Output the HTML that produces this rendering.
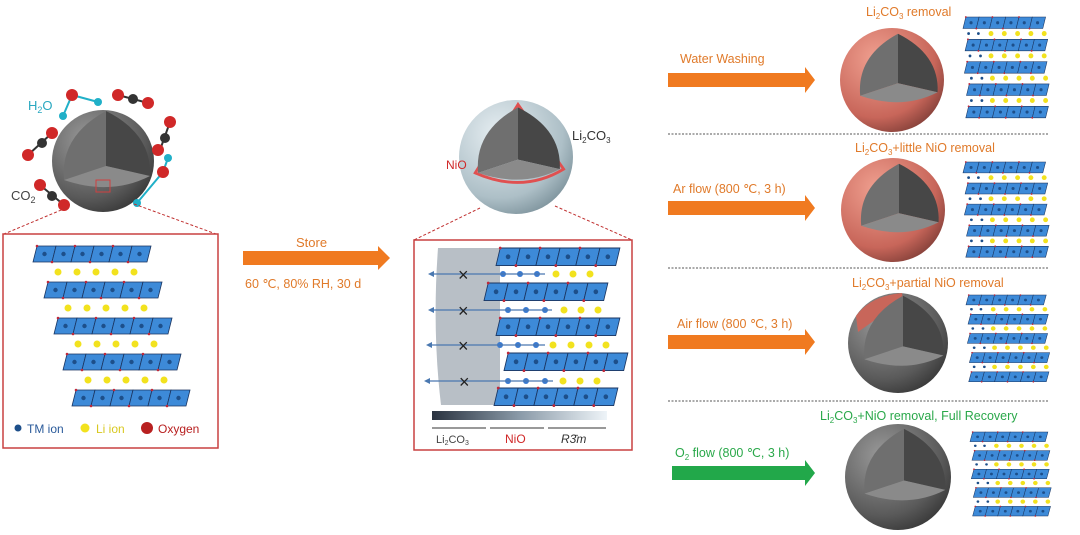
<!DOCTYPE html>
<html><head><meta charset="utf-8"><style>
html,body{margin:0;padding:0;background:#fff;}
svg{display:block;font-family:"Liberation Sans",sans-serif;}
</style></head><body>
<svg width="1080" height="535" viewBox="0 0 1080 535" xmlns="http://www.w3.org/2000/svg">
<defs>
<radialGradient id="gs" cx="0.35" cy="0.3" r="0.8"><stop offset="0" stop-color="#9a9a9a"/><stop offset="0.7" stop-color="#5a5a5a"/><stop offset="1" stop-color="#333"/></radialGradient>
<radialGradient id="rs" cx="0.35" cy="0.3" r="0.8"><stop offset="0" stop-color="#f0a090"/><stop offset="0.7" stop-color="#c8665a"/><stop offset="1" stop-color="#7a3a34"/></radialGradient>
<radialGradient id="bs" cx="0.35" cy="0.3" r="0.8"><stop offset="0" stop-color="#e6eef2"/><stop offset="0.7" stop-color="#a9bcc4"/><stop offset="1" stop-color="#6f8690"/></radialGradient>
<linearGradient id="bar" x1="0" x2="1"><stop offset="0" stop-color="#2a3340"/><stop offset="0.5" stop-color="#8a9aa8"/><stop offset="1" stop-color="#eef4f8"/></linearGradient>
<g id="core">
<path d="M0,-47 L0,8 L-42,22 Q-46,-22 0,-47 Z" fill="#6f6f6f"/>
<path d="M0,-47 L0,8 L44,18 Q46,-24 0,-47 Z" fill="#474747"/>
<path d="M-42,22 L0,8 L44,18 Q5,38 -42,22 Z" fill="#8a8a8a"/>
</g>
<g id="row">
<g fill="#3d8ad8" stroke="#1b3560" stroke-width="0.8">
<polygon points="4,0 23,0 19,16 0,16"/><polygon points="23,0 42,0 38,16 19,16"/><polygon points="42,0 61,0 57,16 38,16"/><polygon points="61,0 80,0 76,16 57,16"/><polygon points="80,0 99,0 95,16 76,16"/><polygon points="99,0 118,0 114,16 95,16"/>
</g>
<g fill="#1d4f8a"><circle cx="11.5" cy="8" r="2.2"/><circle cx="30.5" cy="8" r="2.2"/><circle cx="49.5" cy="8" r="2.2"/><circle cx="68.5" cy="8" r="2.2"/><circle cx="87.5" cy="8" r="2.2"/><circle cx="106.5" cy="8" r="2.2"/></g>
<g fill="#c0283a"><circle cx="4" cy="0" r="1.3"/><circle cx="42" cy="0" r="1.3"/><circle cx="80" cy="0" r="1.3"/><circle cx="19" cy="16" r="1.3"/><circle cx="57" cy="16" r="1.3"/><circle cx="95" cy="16" r="1.3"/></g>
</g>
<g id="li" fill="#f2e21e"><circle cx="0" cy="0" r="3.5"/><circle cx="19" cy="0" r="3.5"/><circle cx="38" cy="0" r="3.5"/><circle cx="57" cy="0" r="3.5"/><circle cx="76" cy="0" r="3.5"/></g>
<g id="mini">
<use href="#row" x="0" y="0"/><use href="#li" x="40" y="23"/>
<g fill="#1d4f8a"><circle cx="8" cy="23" r="2"/><circle cx="22" cy="23" r="2"/></g>
<use href="#row" x="3" y="31"/><use href="#li" x="40" y="54"/>
<g fill="#1d4f8a"><circle cx="10" cy="54" r="2"/><circle cx="25" cy="54" r="2"/></g>
<use href="#row" x="2" y="62"/><use href="#li" x="42" y="85"/>
<g fill="#1d4f8a"><circle cx="12" cy="85" r="2"/><circle cx="27" cy="85" r="2"/></g>
<use href="#row" x="5" y="93"/><use href="#li" x="42" y="116"/>
<g fill="#1d4f8a"><circle cx="12" cy="116" r="2"/><circle cx="27" cy="116" r="2"/></g>
<use href="#row" x="4" y="124"/>
</g>
</defs>

<!-- left sphere -->
<circle cx="103" cy="161" r="51" fill="url(#gs)"/>
<g transform="translate(106,158)"><use href="#core"/></g>
<g stroke="#333" stroke-width="2">
<line x1="72" y1="95" x2="98" y2="102" stroke="#20b0c8"/><line x1="72" y1="95" x2="63" y2="116" stroke="#20b0c8"/>
<line x1="118" y1="95" x2="148" y2="103"/><line x1="170" y1="122" x2="160" y2="150"/>
<line x1="52" y1="133" x2="28" y2="155"/><line x1="40" y1="185" x2="64" y2="205"/>
<line x1="163" y1="172" x2="137" y2="203" stroke="#20b0c8"/><line x1="163" y1="172" x2="168" y2="158" stroke="#20b0c8"/>
</g>
<g fill="#d02828"><circle cx="72" cy="95" r="6"/><circle cx="118" cy="95" r="6"/><circle cx="148" cy="103" r="6"/><circle cx="170" cy="122" r="6"/><circle cx="158" cy="150" r="6"/><circle cx="52" cy="133" r="6"/><circle cx="28" cy="155" r="6"/><circle cx="40" cy="185" r="6"/><circle cx="64" cy="205" r="6"/><circle cx="163" cy="172" r="6"/></g>
<g fill="#333"><circle cx="133" cy="99" r="5"/><circle cx="165" cy="138" r="5"/><circle cx="42" cy="143" r="5"/><circle cx="52" cy="196" r="5"/></g>
<g fill="#20b0c8"><circle cx="98" cy="102" r="4"/><circle cx="63" cy="116" r="4"/><circle cx="168" cy="158" r="4"/><circle cx="137" cy="203" r="4"/></g>
<text x="28" y="110" font-size="13" fill="#2aa8c0">H<tspan font-size="9" dy="3">2</tspan><tspan dy="-3">O</tspan></text>
<text x="11" y="200" font-size="13" fill="#444">CO<tspan font-size="9" dy="3">2</tspan></text>
<rect x="96" y="180" width="14" height="12" fill="none" stroke="#d04040" stroke-width="1"/>
<line x1="66" y1="208" x2="4" y2="234" stroke="#c03030" stroke-dasharray="3,2"/>
<line x1="134" y1="204" x2="216" y2="234" stroke="#c03030" stroke-dasharray="3,2"/>
<rect x="3" y="234" width="215" height="214" fill="#fff" stroke="#c84040" stroke-width="1.5"/>
<use href="#row" x="33" y="246"/><use href="#li" x="58" y="272"/>
<use href="#row" x="44" y="282"/><use href="#li" x="68" y="308"/>
<use href="#row" x="54" y="318"/><use href="#li" x="78" y="344"/>
<use href="#row" x="63" y="354"/><use href="#li" x="88" y="380"/>
<use href="#row" x="72" y="390"/>
<circle cx="18" cy="428" r="3.5" fill="#1d4f8a"/><text x="27" y="433" font-size="12" fill="#2a5a9a">TM ion</text>
<circle cx="85" cy="428" r="4.5" fill="#f2e21e"/><text x="96" y="433" font-size="12" fill="#d8c820">Li ion</text>
<circle cx="147" cy="428" r="6" fill="#b82020"/><text x="158" y="433" font-size="12" fill="#b82020">Oxygen</text>

<!-- store arrow -->
<text x="296" y="247" font-size="13" fill="#e07a2a">Store</text>
<polygon points="243,251 378,251 378,246 390,258 378,270 378,265 243,265" fill="#f07a20"/>
<text x="245" y="288" font-size="12.5" fill="#e07a2a">60 ℃, 80% RH, 30 d</text>

<!-- middle sphere -->
<circle cx="516" cy="157" r="57" fill="url(#bs)" opacity="0.95"/>
<g transform="translate(518,152) scale(0.95)"><path d="M0,-50 L-45,22 Q5,44 48,18 Z" fill="none" stroke="#e05050" stroke-width="3"/><use href="#core"/></g>
<text x="572" y="140" font-size="13" fill="#333">Li<tspan font-size="8" dy="3">2</tspan><tspan dy="-3">CO</tspan><tspan font-size="8" dy="3">3</tspan></text>
<text x="446" y="169" font-size="12" fill="#d02828">NiO</text>
<line x1="480" y1="208" x2="414" y2="240" stroke="#c03030" stroke-dasharray="3,2"/>
<line x1="555" y1="206" x2="632" y2="240" stroke="#c03030" stroke-dasharray="3,2"/>
<rect x="414" y="240" width="218" height="210" fill="#fff" stroke="#c84040" stroke-width="1.5"/>
<path d="M438,248 L500,248 L500,405 L441,405 Q432,330 438,248 Z" fill="#b8bfc6"/>
<g transform="translate(496,248) scale(1.05,1.1)"><use href="#row"/></g>
<g transform="translate(484,283) scale(1.05,1.1)"><use href="#row"/></g>
<g transform="translate(496,318) scale(1.05,1.1)"><use href="#row"/></g>
<g transform="translate(504,353) scale(1.05,1.1)"><use href="#row"/></g>
<g transform="translate(494,388) scale(1.05,1.1)"><use href="#row"/></g>
<g fill="#3a7ad0"><circle cx="503" cy="274" r="3"/><circle cx="520" cy="274" r="3"/><circle cx="537" cy="274" r="3"/><circle cx="508" cy="310" r="3"/><circle cx="526" cy="310" r="3"/><circle cx="545" cy="310" r="3"/><circle cx="500" cy="345" r="3"/><circle cx="518" cy="345" r="3"/><circle cx="536" cy="345" r="3"/><circle cx="508" cy="381" r="3"/><circle cx="526" cy="381" r="3"/><circle cx="545" cy="381" r="3"/></g>
<g fill="#f2e21e"><circle cx="556" cy="274" r="3.5"/><circle cx="573" cy="274" r="3.5"/><circle cx="590" cy="274" r="3.5"/><circle cx="564" cy="310" r="3.5"/><circle cx="581" cy="310" r="3.5"/><circle cx="598" cy="310" r="3.5"/><circle cx="553" cy="345" r="3.5"/><circle cx="571" cy="345" r="3.5"/><circle cx="589" cy="345" r="3.5"/><circle cx="606" cy="345" r="3.5"/><circle cx="563" cy="381" r="3.5"/><circle cx="580" cy="381" r="3.5"/><circle cx="597" cy="381" r="3.5"/></g>
<g stroke="#4a78b0" stroke-width="1.2"><line x1="432" y1="274" x2="545" y2="274"/><line x1="432" y1="310" x2="552" y2="310"/><line x1="430" y1="345" x2="545" y2="345"/><line x1="428" y1="381" x2="553" y2="381"/></g>
<g fill="#4a78b0"><polygon points="428,274 434,271 434,277"/><polygon points="428,310 434,307 434,313"/><polygon points="426,345 432,342 432,348"/><polygon points="424,381 430,378 430,384"/></g>
<g font-size="18" fill="#222"><text x="458" y="281">×</text><text x="458" y="317">×</text><text x="458" y="352">×</text><text x="459" y="388">×</text></g>
<rect x="432" y="411" width="175" height="9" fill="url(#bar)"/>
<g stroke="#333" stroke-width="1"><line x1="432" y1="428" x2="486" y2="428"/><line x1="490" y1="428" x2="544" y2="428"/><line x1="548" y1="428" x2="606" y2="428"/></g>
<text x="436" y="443" font-size="11" fill="#444">Li<tspan font-size="7" dy="2">2</tspan><tspan dy="-2">CO</tspan><tspan font-size="7" dy="2">3</tspan></text>
<text x="505" y="443" font-size="12" fill="#d02828">NiO</text>
<text x="561" y="443" font-size="12" font-style="italic" fill="#333">R3̄m</text>

<!-- right column -->
<g font-size="12.5" fill="#e07a2a">
<text x="680" y="63">Water Washing</text>
<text x="673" y="193">Ar flow (800 ℃, 3 h)</text>
<text x="677" y="328">Air flow (800 ℃, 3 h)</text>
<text x="866" y="16">Li<tspan font-size="8" dy="3">2</tspan><tspan dy="-3">CO</tspan><tspan font-size="8" dy="3">3</tspan><tspan dy="-3"> removal</tspan></text>
<text x="855" y="152">Li<tspan font-size="8" dy="3">2</tspan><tspan dy="-3">CO</tspan><tspan font-size="8" dy="3">3</tspan><tspan dy="-3">+little NiO removal</tspan></text>
<text x="852" y="287">Li<tspan font-size="8" dy="3">2</tspan><tspan dy="-3">CO</tspan><tspan font-size="8" dy="3">3</tspan><tspan dy="-3">+partial NiO removal</tspan></text>
</g>
<text x="820" y="420" font-size="12.5" fill="#2aa84a">Li<tspan font-size="8" dy="3">2</tspan><tspan dy="-3">CO</tspan><tspan font-size="8" dy="3">3</tspan><tspan dy="-3">+NiO removal, Full Recovery</tspan></text>
<text x="675" y="457" font-size="12.5" fill="#2aa84a">O<tspan font-size="8" dy="3">2</tspan><tspan dy="-3"> flow (800 ℃, 3 h)</tspan></text>
<polygon points="668,73 805,73 805,67 815,80 805,93 805,87 668,87" fill="#f07a20"/>
<polygon points="668,201 805,201 805,195 815,208 805,221 805,215 668,215" fill="#f07a20"/>
<polygon points="668,335 805,335 805,329 815,342 805,355 805,349 668,349" fill="#f07a20"/>
<polygon points="672,466 805,466 805,460 815,473 805,486 805,480 672,480" fill="#22a84a"/>
<g stroke="#555" stroke-width="1" stroke-dasharray="2,1.5"><line x1="668" y1="134" x2="1048" y2="134"/><line x1="668" y1="268" x2="1048" y2="268"/><line x1="668" y1="401" x2="1048" y2="401"/></g>

<circle cx="892" cy="80" r="52" fill="url(#rs)"/>
<g transform="translate(898,76) scale(0.9)"><use href="#core"/></g>
<circle cx="893" cy="210" r="52" fill="url(#rs)"/>
<g transform="translate(899,206) scale(0.9)"><use href="#core"/></g>
<circle cx="898" cy="343" r="50" fill="url(#gs)"/>
<path d="M856,316 Q870,296 902,293 L903,300 L858,332 Z" fill="#c8665a"/>
<g transform="translate(903,339) scale(0.92)"><use href="#core"/></g>
<circle cx="898" cy="477" r="53" fill="url(#gs)"/>
<g transform="translate(904,473) scale(0.94)"><use href="#core"/></g>

<g transform="translate(963,17) scale(0.7,0.72)"><use href="#mini"/></g>
<g transform="translate(963,162) scale(0.7,0.68)"><use href="#mini"/></g>
<g transform="translate(966,295) scale(0.68,0.62)"><use href="#mini"/></g>
<g transform="translate(970,432) scale(0.66,0.6)"><use href="#mini"/></g>
</svg>
</body></html>
